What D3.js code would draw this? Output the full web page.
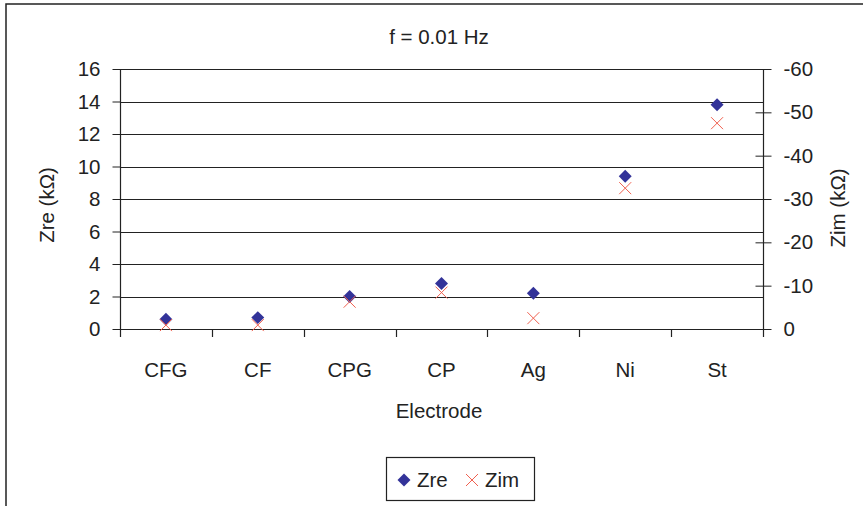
<!DOCTYPE html>
<html>
<head>
<meta charset="utf-8">
<script src="https://cdn.jsdelivr.net/npm/d3@7"></script>
<style>
	body { margin: 0; background: #fff; }
	svg text { font-family: "Liberation Sans", Arial, sans-serif; fill: #222; }
</style>
</head>
<body>
<svg id="chart" width="863" height="506"></svg>
<script>
// electrodes on the x axis
var categories = ['CFG', 'CF', 'CPG', 'CP', 'Ag', 'Ni', 'St'];
// real part, left axis (kOhm)
var zre = [0.6, 0.7, 2.0, 2.8, 2.2, 9.4, 13.8];
// imaginary part, right axis (kOhm)
var zim = [-0.9, -0.9, -6.3, -8.4, -2.5, -32.5, -47.5];
var leftTicks = [0, 2, 4, 6, 8, 10, 12, 14, 16];
var rightTicks = [0, -10, -20, -30, -40, -50, -60];

var svg = d3.select('#chart');
var fontSize = 20.5;

var plot = { left: 120, right: 763, top: 69, bottom: 329 };

var x = d3.scaleBand().domain(categories).range([plot.left, plot.right]);
var yL = d3.scaleLinear().domain([0, 16]).range([plot.bottom, plot.top]);
var yR = d3.scaleLinear().domain([0, -60]).range([plot.bottom, plot.top]);

// outer chart border (runs off the right and bottom edge)
svg.append('rect')
	.attr('x', 6).attr('y', 4)
	.attr('width', 880).attr('height', 520)
	.attr('fill', 'none')
	.attr('stroke', '#222')
	.attr('stroke-width', 1.5);

// gridlines
svg.append('g').selectAll('line')
	.data(leftTicks)
	.enter().append('line')
	.attr('x1', plot.left).attr('x2', plot.right)
	.attr('y1', function(d){ return Math.round(yL(d)) + 0.5 })
	.attr('y2', function(d){ return Math.round(yL(d)) + 0.5 })
	.attr('stroke', '#222')
	.attr('stroke-width', 1.2);

// left axis
var leftAxis = d3.axisLeft(yL)
	.tickValues(leftTicks)
	.tickSize(8)
	.tickPadding(12)
	.tickFormat(function(d){ return String(d) });

var gl = svg.append('g')
	.attr('transform', 'translate(' + (plot.left + 0.5) + ',0)')
	.call(leftAxis);
gl.select('.domain').remove();
gl.selectAll('line').attr('stroke', '#222');
gl.selectAll('text').attr('font-size', fontSize).attr('fill', '#222');

// right axis, ticks cross the line
var rightAxis = d3.axisRight(yR)
	.tickValues(rightTicks)
	.tickSize(8)
	.tickPadding(12)
	.tickFormat(function(d){ return String(d) });

var gr = svg.append('g')
	.attr('transform', 'translate(' + (plot.right + 0.5) + ',0)')
	.call(rightAxis);
gr.select('.domain').remove();
gr.selectAll('line').attr('stroke', '#222').attr('x1', -8);
gr.selectAll('text').attr('font-size', fontSize).attr('fill', '#222');

// vertical axis lines, running a bit below zero
[plot.left, plot.right].forEach(function(px){
	svg.append('line')
		.attr('x1', px + 0.5).attr('x2', px + 0.5)
		.attr('y1', plot.top).attr('y2', plot.bottom + 8)
		.attr('stroke', '#222')
		.attr('stroke-width', 1.2);
});

// category boundary ticks
svg.append('g').selectAll('line')
	.data(categories.slice(1))
	.enter().append('line')
	.attr('x1', function(d){ return Math.round(x(d)) + 0.5 })
	.attr('x2', function(d){ return Math.round(x(d)) + 0.5 })
	.attr('y1', plot.bottom).attr('y2', plot.bottom + 8)
	.attr('stroke', '#222')
	.attr('stroke-width', 1.2);

// category labels
svg.append('g').selectAll('text')
	.data(categories)
	.enter().append('text')
	.attr('x', function(d){ return x(d) + x.bandwidth() / 2 })
	.attr('y', 377)
	.attr('text-anchor', 'middle')
	.attr('font-size', fontSize)
	.text(function(d){ return d });

// titles
svg.append('text')
	.attr('x', 439).attr('y', 44)
	.attr('text-anchor', 'middle')
	.attr('font-size', fontSize)
	.text('f = 0.01 Hz');

svg.append('text')
	.attr('x', 439).attr('y', 418)
	.attr('text-anchor', 'middle')
	.attr('font-size', fontSize)
	.text('Electrode');

svg.append('text')
	.attr('transform', 'translate(54,205) rotate(-90)')
	.attr('text-anchor', 'middle')
	.attr('font-size', fontSize)
	.text('Zre (kΩ)');

svg.append('text')
	.attr('transform', 'translate(845,208) rotate(-90)')
	.attr('text-anchor', 'middle')
	.attr('font-size', fontSize)
	.text('Zim (kΩ)');

// markers
var diamond = d3.symbol().type(d3.symbolSquare).size(84);
var crossPath = 'M-6,-6L6,6M-6,6L6,-6';

function cx(d, i){ return x(categories[i]) + x.bandwidth() / 2 }

svg.append('g').selectAll('path')
	.data(zre)
	.enter().append('path')
	.attr('d', diamond)
	.attr('transform', function(d, i){ return 'translate(' + cx(d, i) + ',' + yL(d) + ') rotate(45)' })
	.attr('fill', '#333399');

svg.append('g').selectAll('path')
	.data(zim)
	.enter().append('path')
	.attr('d', crossPath)
	.attr('transform', function(d, i){ return 'translate(' + cx(d, i) + ',' + yR(d) + ')' })
	.attr('fill', 'none')
	.attr('stroke', '#f0604f')
	.attr('stroke-width', 1);

// legend
var legend = svg.append('g');
legend.append('rect')
	.attr('x', 386.5).attr('y', 457.5)
	.attr('width', 148).attr('height', 43)
	.attr('fill', '#fff')
	.attr('stroke', '#222')
	.attr('stroke-width', 1.2);
legend.append('path')
	.attr('d', diamond)
	.attr('transform', 'translate(404,480) rotate(45)')
	.attr('fill', '#333399');
legend.append('text')
	.attr('x', 417).attr('y', 487)
	.attr('font-size', fontSize)
	.text('Zre');
legend.append('path')
	.attr('d', crossPath)
	.attr('transform', 'translate(472,480)')
	.attr('fill', 'none')
	.attr('stroke', '#f0604f');
legend.append('text')
	.attr('x', 485).attr('y', 487)
	.attr('font-size', fontSize)
	.text('Zim');
</script>
</body>
</html>
